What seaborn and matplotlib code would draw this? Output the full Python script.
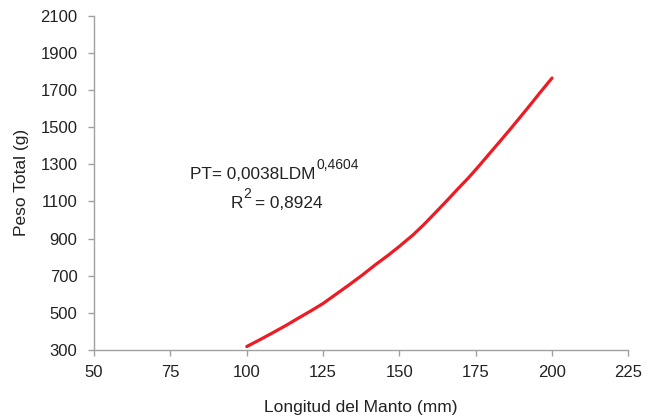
import matplotlib
matplotlib.use("Agg")
import matplotlib.pyplot as plt
import seaborn as sns
import pandas as pd

# Data
ldm = [100, 104, 108.5, 113, 117, 121, 125, 129, 133.5, 138, 142, 146.5, 150,
       154.5, 158, 162, 166, 169, 172.5, 176, 179, 183, 186.5, 190, 192, 196, 200]
pt = [318, 352, 392, 433, 472, 510, 550, 597, 650, 705, 757, 812, 858,
      920, 975, 1043, 1112, 1165, 1225, 1290, 1348, 1425, 1493, 1563, 1603, 1685, 1765]
x_ticks = [50, 75, 100, 125, 150, 175, 200, 225]
y_ticks = [300, 500, 700, 900, 1100, 1300, 1500, 1700, 1900, 2100]

sns.set_style("ticks")
plt.rcParams['font.family'] = ['Liberation Sans', 'DejaVu Sans']

df = pd.DataFrame({"LDM": ldm, "PT": pt})

W, H = 658, 417
fig = plt.figure(figsize=(W / 100, H / 100), dpi=100)
ax = fig.add_axes([0.143, 0.161, 0.812, 0.801])

sns.lineplot(data=df, x="LDM", y="PT", ax=ax, color="#ED1C24", linewidth=2.3)

ax.set_xlim(50, 225)
ax.set_ylim(300, 2100)
ax.set_xticks(x_ticks)
ax.set_yticks(y_ticks)

gray = "#a0a0a0"
for s in ["left", "bottom"]:
    ax.spines[s].set_color(gray)
    ax.spines[s].set_linewidth(1.0)
sns.despine(ax=ax)

ax.tick_params(axis="both", colors=gray, labelcolor="#222222", labelsize=12,
               length=4, width=1.0)
ax.tick_params(axis="x", pad=7)
ax.tick_params(axis="y", pad=8)

ax.set_xlabel("Longitud del Manto (mm)", fontsize=12.5, color="#222222", labelpad=14)
ax.set_ylabel("Peso Total (g)", fontsize=12.5, color="#222222", labelpad=8)

tc = "#222222"
renderer = fig.canvas.get_renderer()


def chain(parts, x0, y0):
    """parts: list of (text, fontsize, raise_px, gap_px); positions in pixels from top-left."""
    x = x0
    for txt, fs, rise, gap in parts:
        x += gap
        t = fig.text(x / W, 1 - (y0 - rise) / H, txt, fontsize=fs, color=tc,
                     va="baseline", ha="left")
        ext = t.get_window_extent(renderer=renderer)
        x = ext.x1


chain([("PT= 0,0038LDM", 12.4, 0, 0), ("0,4604", 10, 10, 1)], 190, 179.3)
chain([("R", 12.4, 0, 0), ("2", 10, 10, 0.5), ("= 0,8924", 12.4, 0, 4)], 230.7, 208.3)

fig.savefig("out.png", dpi=100)
